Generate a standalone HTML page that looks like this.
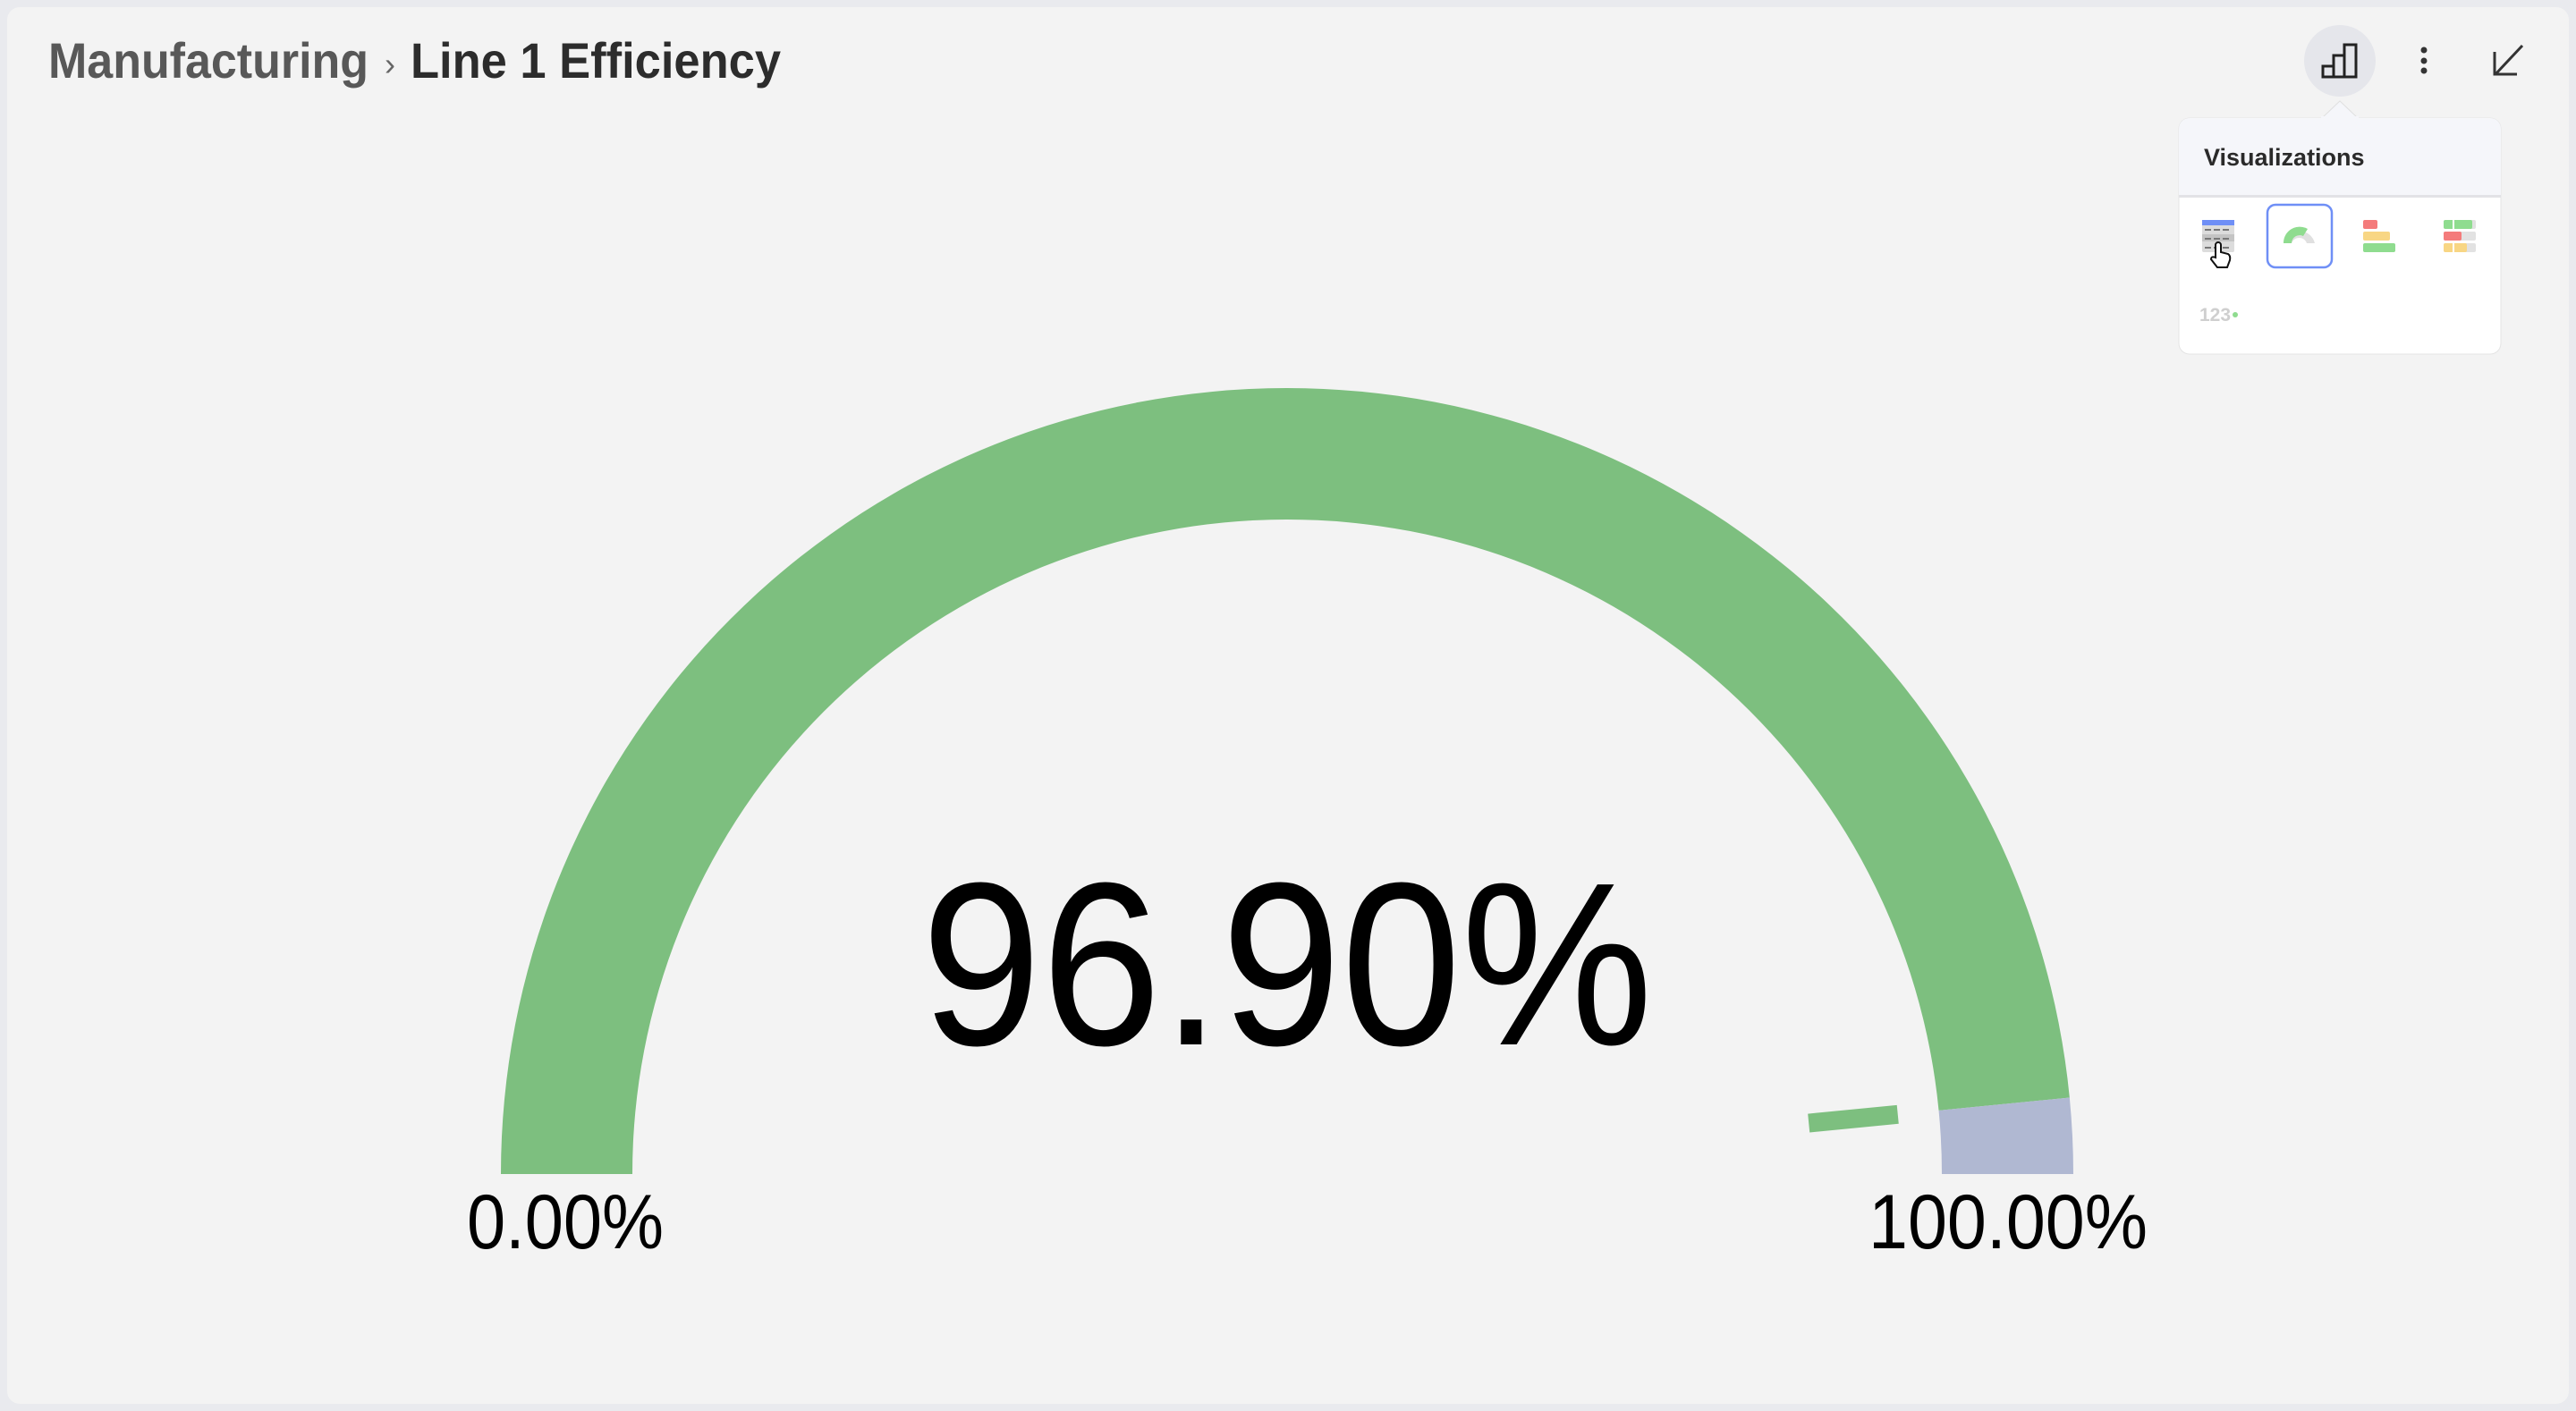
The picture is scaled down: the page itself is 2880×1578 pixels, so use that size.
<!DOCTYPE html>
<html><head><meta charset="utf-8"><style>
html,body{margin:0;padding:0;width:2880px;height:1578px;background:#e9eaee;overflow:hidden;font-family:"Liberation Sans",sans-serif}
#card{position:absolute;left:8px;top:8px;width:2864px;height:1562px;background:#f3f3f3;border-radius:14px}
svg{position:absolute;left:0;top:0}
</style></head><body>
<div id="card"></div>
<svg id="chart" width="2880" height="1578">
  <text x="54" y="87" font-size="56" font-weight="bold" fill="#585858" textLength="358" lengthAdjust="spacingAndGlyphs">Manufacturing</text>
  <text x="430" y="84" font-size="36" fill="#666">›</text>
  <text x="459" y="87" font-size="56" font-weight="bold" fill="#2c2c2c" textLength="414" lengthAdjust="spacingAndGlyphs">Line 1 Efficiency</text>

  <g>
    <circle cx="2616" cy="68" r="40" fill="#e5e6eb"/>
    <path d="M2597 86 V74 H2609 V86 Z M2609 86 V62 H2621 V86 Z M2621 86 V50 H2634 V86 Z" fill="none" stroke="#222" stroke-width="3"/>
  </g>
  <g fill="#333">
    <circle cx="2710" cy="56" r="3.5"/><circle cx="2710" cy="68" r="3.5"/><circle cx="2710" cy="79" r="3.5"/>
  </g>
  <g stroke="#333" stroke-width="3" fill="none">
    <path d="M2820 51 L2790 83 M2789 58 V83 H2814"/>
  </g>

  <g>
    <rect x="2436" y="132" width="360" height="264" rx="12" fill="#fff" stroke="#e4e4e4"/>
    <path d="M2596 132 L2616 113 L2636 132 Z" fill="#f5f6fa" stroke="#e0e0e0"/>
    <path d="M2448 132 H2784 A12 12 0 0 1 2796 144 V219 H2436 V144 A12 12 0 0 1 2448 132 Z" fill="#f5f6fa"/>
    <rect x="2595" y="130" width="42" height="4" fill="#f5f6fa"/>
    <rect x="2436" y="218" width="360" height="3" fill="#e2e2e6"/>
    <text x="2464" y="185" font-size="27" font-weight="bold" fill="#2a2a2a">Visualizations</text>
    <g>
      <rect x="2462" y="246" width="36" height="36" rx="2" fill="#dcdcdc"/>
      <rect x="2462" y="246" width="36" height="6" fill="#6f8ff6"/>
      <rect x="2462" y="262" width="36" height="8" fill="#c4c4c4"/>
      <path d="M2465 257 h30 M2465 267 h30 M2465 277 h30" stroke="#777" stroke-width="2" stroke-dasharray="7 3"/>
      <path d="M2477 282 v-8 a3 3 0 0 1 6 0 v8 l8 2 q3 2 2 7 l-3 8 h-11 l-7 -9 q0 -4 5 -2 z" fill="#fff" stroke="#111" stroke-width="2"/>
    </g>
    <g>
      <rect x="2535" y="229" width="72" height="70" rx="9" fill="#fff" stroke="#6f8ff6" stroke-width="2.5"/>
      <path d="M2553 272 A18 18 0 0 1 2588 272 L2579 272 A9 9 0 0 0 2562 272 Z" fill="#e0e0e0"/>
      <path d="M2553 272 A18 18 0 0 1 2580 256 L2575 264 A9 9 0 0 0 2562 272 Z" fill="#8fdc8f"/>
    </g>
    <g>
      <rect x="2642" y="246" width="16" height="10" rx="2" fill="#f47b7b"/>
      <rect x="2642" y="259" width="30" height="10" rx="2" fill="#f8d684"/>
      <rect x="2642" y="272" width="36" height="10" rx="2" fill="#8fdc8f"/>
    </g>
    <g>
      <rect x="2732" y="246" width="36" height="10" rx="2" fill="#e2e2e2"/>
      <rect x="2732" y="246" width="32" height="10" rx="2" fill="#8fdc8f"/>
      <rect x="2732" y="259" width="36" height="10" rx="2" fill="#e2e2e2"/>
      <rect x="2732" y="259" width="20" height="10" rx="2" fill="#f47b7b"/>
      <rect x="2732" y="272" width="36" height="10" rx="2" fill="#e2e2e2"/>
      <rect x="2732" y="272" width="26" height="10" rx="2" fill="#f8d684"/>
      <path d="M2743 246 v10 M2743 272 v10" stroke="#fff" stroke-width="2"/>
    </g>
    <g>
      <text x="2459" y="359" font-size="21" font-weight="bold" fill="#cfcfcf">123</text>
      <circle cx="2499" cy="352" r="3" fill="#8fdc8f"/>
    </g>
  </g>
  <g id="gauge"></g>
</svg>
<script>
const gaugeMin = [0];
const gaugeMax = [100];
const gaugeValue = [96.9];
const gaugeLabels = ["0.00%", "100.00%"];
const valueLabel = ["96.90%"];

const cx = 1439, cy = 1313, R = 879, r = 732;
const ns = "http://www.w3.org/2000/svg";
const g = document.getElementById('gauge');
function ang(v){ return Math.PI * (1 - (v - gaugeMin[0]) / (gaugeMax[0] - gaugeMin[0])); }
function pt(rad, a){ return [cx + rad * Math.cos(a), cy - rad * Math.sin(a)]; }
function band(v0, v1, fill, name){
  const a0 = ang(v0), a1 = ang(v1);
  const p1 = pt(R, a0), p2 = pt(R, a1), p3 = pt(r, a1), p4 = pt(r, a0);
  const p = document.createElementNS(ns, 'path');
  p.setAttribute('d', `M${p1} A${R} ${R} 0 0 1 ${p2} L${p3} A${r} ${r} 0 0 0 ${p4} Z`);
  p.setAttribute('fill', fill);
  
  
  g.appendChild(p);
}
band(gaugeMin[0], gaugeValue[0], '#7dbf7f', 'gauge-value-arc');
band(gaugeValue[0], gaugeMax[0], '#b0b8d2', 'gauge-remaining-arc');

const na = ang(gaugeValue[0]);
const n0 = pt(586, na), n1 = pt(686, na);
const needle = document.createElementNS(ns, 'line');
needle.setAttribute('x1', n0[0]); needle.setAttribute('y1', n0[1]);
needle.setAttribute('x2', n1[0]); needle.setAttribute('y2', n1[1]);
needle.setAttribute('stroke', '#7dbf7f'); needle.setAttribute('stroke-width', '21');


g.appendChild(needle);

function txt(x, y, s, size, anchor, len, name){
  const t = document.createElementNS(ns, 'text');
  t.setAttribute('x', x); t.setAttribute('y', y);
  t.setAttribute('font-size', size); t.setAttribute('text-anchor', anchor);
  t.setAttribute('fill', '#000');
  if (len) { t.setAttribute('textLength', len); t.setAttribute('lengthAdjust', 'spacingAndGlyphs'); }
  t.textContent = s;
  
  
  g.appendChild(t);
}
txt(632, 1396, gaugeLabels[0], 86, 'middle', 220, 'min-label');
txt(2245, 1396, gaugeLabels[1], 86, 'middle', 312, 'max-label');
txt(1439, 1168, valueLabel[0], 260, 'middle', 818, 'value-label');
</script>
</body></html>
